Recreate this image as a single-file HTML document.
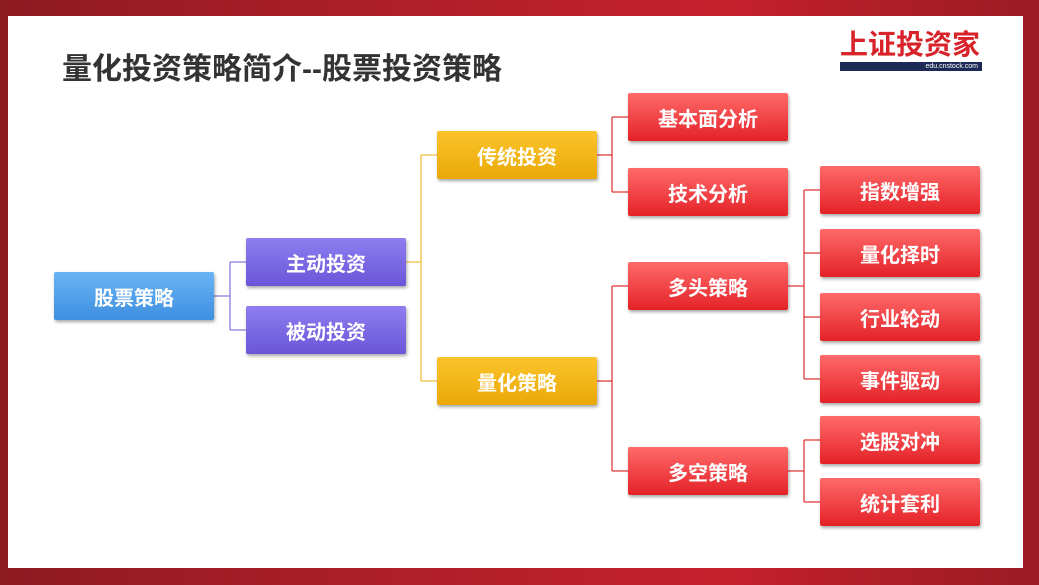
<!DOCTYPE html>
<html><head><meta charset="utf-8"><style>
body{margin:0;width:1039px;height:585px;overflow:hidden;background:linear-gradient(90deg,#8e1a22 0%,#b01f2a 40%,#c4202c 70%,#9a1b24 100%);font-family:"Liberation Sans","Noto Sans CJK SC",sans-serif;position:relative}
.panel{position:absolute;left:8px;top:16px;width:1015px;height:552px;background:#fff}
.t{position:absolute;left:62px;top:44px;font-size:30px;font-weight:bold;color:#333;letter-spacing:0px;white-space:nowrap}
.b{position:absolute;width:160px;height:48px;color:#fff;font-weight:bold;font-size:20px;display:flex;align-items:center;justify-content:center;box-shadow:1px 2px 3px rgba(0,0,0,.35);border-radius:2px}
.bl{background:linear-gradient(#6ab4f5,#3d8fe0)}
.pu{background:linear-gradient(#8e7ef0,#6a56d8)}
.ye{background:linear-gradient(#fbc42a,#eaa808)}
.re{background:linear-gradient(#ff6a6a,#e42228)}
svg{position:absolute;left:0;top:0}
.logo{position:absolute;left:840px;top:28px;width:142px}
</style></head><body>
<div class="panel"></div>
<div class="t">量化投资策略简介--股票投资策略</div>
<div class="logo">
<div style="color:#d8232a;font-size:28px;font-weight:bold;line-height:34px;letter-spacing:0px;white-space:nowrap">上证投资家</div>
<div style="background:#1d2a55;height:9px;margin-top:0px;color:#fff;font-size:7px;line-height:9px;text-align:right;padding-right:4px">edu.cnstock.com</div>
</div>
<svg width="1039" height="585">
<g fill="none" stroke-width="1.3">
<path d="M214 296H230M230 262V330M230 262H246M230 330H246" stroke="#8a7ad8"/>
<path d="M405 262H421M421 155V381M421 155H437M421 381H437" stroke="#f0c040"/>
<path d="M596 155H612M612 117V192M612 117H628M612 192H628" stroke="#e03838"/>
<path d="M596 381H612M612 286V471M612 286H628M612 471H628" stroke="#e03838"/>
<path d="M788 286H804M804 190V379M804 190H820M804 253H820M804 317H820M804 379H820" stroke="#e03838"/>
<path d="M788 471H804M804 440V502M804 440H820M804 502H820" stroke="#e03838"/>
</g></svg>
<div class="b bl" style="left:54px;top:272px">股票策略</div>
<div class="b pu" style="left:246px;top:238px">主动投资</div>
<div class="b pu" style="left:246px;top:306px">被动投资</div>
<div class="b ye" style="left:437px;top:131px">传统投资</div>
<div class="b ye" style="left:437px;top:357px">量化策略</div>
<div class="b re" style="left:628px;top:93px">基本面分析</div>
<div class="b re" style="left:628px;top:168px">技术分析</div>
<div class="b re" style="left:628px;top:262px">多头策略</div>
<div class="b re" style="left:628px;top:447px">多空策略</div>
<div class="b re" style="left:820px;top:166px">指数增强</div>
<div class="b re" style="left:820px;top:229px">量化择时</div>
<div class="b re" style="left:820px;top:293px">行业轮动</div>
<div class="b re" style="left:820px;top:355px">事件驱动</div>
<div class="b re" style="left:820px;top:416px">选股对冲</div>
<div class="b re" style="left:820px;top:478px">统计套利</div>
</body></html>
